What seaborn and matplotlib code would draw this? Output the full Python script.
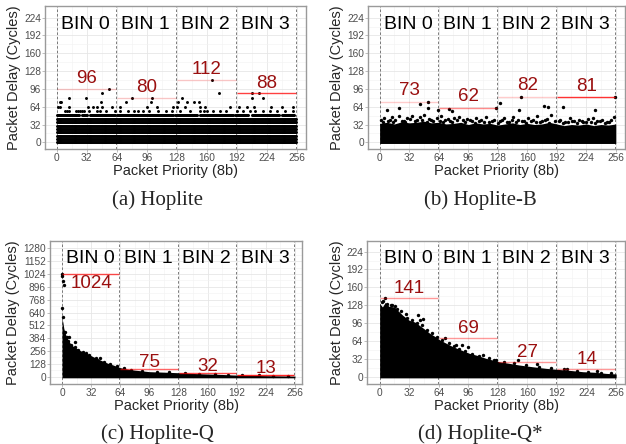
import numpy as np
import pandas as pd
import matplotlib
matplotlib.use("Agg")
import matplotlib.pyplot as plt
import seaborn as sns

# ---------------- values ----------------
bin_lines = [0, 63, 127, 191, 255]
bin_names = ["BIN 0", "BIN 1", "BIN 2", "BIN 3"]
bin_centers = [32, 96, 160, 224]
priority_ticks = [0, 32, 64, 96, 128, 160, 192, 224, 256]

# (a) Hoplite -- delays fall on discrete levels
a_full_levels = [0, 6, 12, 18, 24, 30, 36, 42]
a_row49_runs = [(0, 24), (27, 32), (36, 62), (64, 124), (126, 150),
                (153, 188), (190, 204), (208, 237), (240, 253)]
a_row57 = [9, 11, 13, 21, 23, 25, 27, 29, 34, 43, 46, 53, 62, 68, 76, 82, 87,
           92, 98, 108, 117, 123, 132, 142, 153, 157, 160, 167, 174, 181, 192,
           199, 206, 212, 220, 228, 235, 244, 252]
a_row64 = [1, 3, 13, 33, 39, 43, 48, 59, 67, 96, 107, 124, 128, 137, 153, 158,
           185, 194, 203, 211, 229, 240, 252]
a_row72 = [3, 5, 47, 74, 101, 129, 139, 146, 152]
a_row80 = [13, 31, 80, 102, 134, 208, 220]
a_row88 = [48, 173, 208, 216]
a_row96 = [56]
a_row112 = [166]
a_max = [96, 80, 112, 88]

# (b) Hoplite-B -- solid body, ragged top, a few outliers
b_body_x = list(range(0, 257, 8))
b_body = [34, 36, 33, 37, 35, 36, 38, 35, 36, 33, 34, 36, 32, 35, 33, 34, 31,
          33, 35, 32, 34, 32, 33, 36, 33, 30, 32, 31, 33, 30, 32, 31, 33]
b_edge_x = [2, 5, 9, 13, 17, 21, 26, 30, 35, 40, 44, 48, 53, 58, 62, 67, 71, 76,
            81, 86, 90, 95, 100, 105, 110, 115, 119, 124, 130, 135, 140, 145,
            150, 156, 161, 166, 171, 176, 181, 186, 190, 196, 201, 206, 211, 216,
            221, 226, 231, 236, 241, 246, 251, 254]
b_edge_y = [40, 44, 38, 46, 41, 48, 39, 43, 47, 40, 45, 49, 42, 38, 44, 47, 41,
            39, 43, 46, 40, 42, 38, 44, 40, 46, 37, 41, 39, 43, 36, 45, 41, 38,
            44, 40, 47, 39, 42, 50, 38, 41, 36, 43, 39, 40, 37, 42, 44, 38, 41,
            36, 40, 46]
b_edge2_x = [4, 11, 15, 24, 28, 33, 38, 46, 51, 56, 65, 69, 74, 79, 84, 93, 98,
             103, 108, 113, 122, 128, 133, 138, 143, 148, 154, 159, 164, 169,
             174, 179, 184, 194, 199, 204, 209, 214, 219, 224, 229, 234, 239,
             244, 249]
b_edge2_y = [37, 41, 36, 39, 37, 42, 38, 40, 36, 41, 39, 37, 42, 36, 40, 37, 41,
             35, 38, 36, 39, 35, 40, 37, 41, 36, 38, 35, 39, 36, 37, 41, 35, 38,
             34, 37, 39, 35, 38, 36, 37, 34, 38, 35, 37]
b_out_x = [8, 21, 44, 52, 52, 63, 75, 78, 126, 131, 151, 153, 178, 182, 199, 233, 255]
b_out_y = [58, 62, 68, 73, 61, 58, 60, 57, 62, 70, 58, 82, 66, 63, 64, 58, 81]
b_max = [73, 62, 82, 81]

# (c) Hoplite-Q -- fast decaying envelope
c_env_x = [0, 1, 2, 4, 6, 9, 12, 16, 20, 27, 34, 42, 50, 56, 64, 72, 80, 96,
           112, 126, 144, 159, 176, 188, 208, 225, 240, 256]
c_env = [580, 540, 480, 420, 380, 333, 305, 283, 260, 233, 200, 166, 135, 117,
         90, 75, 65, 50, 45, 40, 32, 27, 22, 17, 13, 10, 8, 6]
c_edge_x = [3, 5, 7, 10, 14, 18, 23, 30, 37, 46, 53, 60, 68, 76, 88, 104, 118,
            135, 150, 168, 182, 198, 216, 232, 248]
c_edge_y = [450, 400, 360, 320, 295, 270, 250, 215, 185, 150, 125, 105, 82, 70,
            58, 48, 42, 36, 30, 25, 20, 15, 12, 9, 7]
c_out_x = [0, 0, 1, 2, 0, 1, 8, 14, 26, 32, 38, 42]
c_out_y = [1024, 1000, 955, 915, 680, 600, 400, 343, 239, 150, 166, 190]
c_max = [1024, 75, 32, 13]

# (d) Hoplite-Q* -- slower decaying envelope
d_env_x = [0, 3, 6, 10, 16, 20, 25, 32, 38, 43, 48, 54, 60, 65, 72, 79, 88, 97,
           106, 115, 122, 129, 140, 151, 165, 180, 194, 208, 220, 233, 245, 256]
d_env = [131, 125, 133, 126, 125, 118, 110, 101, 98, 92, 86, 78, 72, 66, 60, 54,
         48, 42, 38, 33, 30, 27, 24, 21, 18, 15, 13, 11, 9, 8, 6, 5]
d_edge_x = [2, 8, 12, 19, 23, 28, 30, 35, 40, 46, 51, 57, 62, 68, 75, 81, 86, 92,
            100, 108, 118, 124, 135, 145, 158, 172, 186, 200, 214, 226, 240, 250]
d_edge_y = [133, 130, 128, 122, 117, 112, 106, 102, 97, 92, 84, 79, 72, 65, 60,
            55, 50, 46, 41, 37, 33, 30, 27, 24, 21, 18, 15, 13, 10, 9, 7, 6]
d_out_x = [6, 4, 13, 17, 42, 44, 47, 71, 83, 89, 96, 112, 126, 150, 170, 203, 235]
d_out_y = [141, 135, 128, 126, 110, 101, 104, 69, 57, 56, 54, 39, 30, 30, 22, 14, 11]
d_max = [141, 69, 27, 14]

captions = ["(a) Hoplite", "(b) Hoplite-B", "(c) Hoplite-Q", "(d) Hoplite-Q*"]

# ---------------- build point tables ----------------
a_pts = []
for lev in a_full_levels:
    a_pts += [(p, lev) for p in range(256)]
for s, e in a_row49_runs:
    a_pts += [(p, 49) for p in range(s, e + 1)]
for lev, row in [(57, a_row57), (64, a_row64), (72, a_row72), (80, a_row80),
                 (88, a_row88), (96, a_row96), (112, a_row112)]:
    a_pts += [(p, lev) for p in row]
df_a = pd.DataFrame(a_pts, columns=["priority", "delay"])
df_b = pd.DataFrame({"priority": b_edge_x + b_edge2_x + b_out_x,
                     "delay": b_edge_y + b_edge2_y + b_out_y})
df_c = pd.DataFrame({"priority": c_edge_x + c_out_x, "delay": c_edge_y + c_out_y})
df_d = pd.DataFrame({"priority": d_edge_x + d_out_x, "delay": d_edge_y + d_out_y})

sns.set_theme(style="white")
plt.rcParams["font.family"] = ["Liberation Sans", "DejaVu Sans"]

fig = plt.figure(figsize=(6.26, 4.44), dpi=100)


def add_ax(l, t, r, b):
    return fig.add_axes([l / 626, 1 - b / 444, (r - l) / 626, (b - t) / 444])


panels = [
    dict(box=(45, 6, 306, 149), xlim=(-12.5, 266), ylim=(-12, 245), ystep=32,
         top=224, df=df_a, mx=a_max, biny=211, off=18, s=4.5,
         alphas=[0.2, 0.2, 0.2, 0.75]),
    dict(box=(368, 6, 625, 149), xlim=(-12.6, 266), ylim=(-12, 245), ystep=32,
         top=224, df=df_b, mx=b_max, biny=211, off=20, s=6,
         alphas=[0.2, 0.45, 0.2, 0.8], fill=(b_body_x, b_body)),
    dict(box=(50, 241, 302, 384), xlim=(-13.2, 263.7), ylim=(-73, 1353), ystep=128,
         top=1280, df=df_c, mx=c_max, biny=1180, off=70, s=6,
         alphas=[0.7, 0.6, 0.7, 0.85], fill=(c_env_x, c_env)),
    dict(box=(367, 241, 625, 384), xlim=(-13.7, 265.6), ylim=(-13, 243), ystep=32,
         top=224, df=df_d, mx=d_max, biny=212, off=17, s=6,
         alphas=[0.4, 0.4, 0.4, 0.4], fill=(d_env_x, d_env)),
]
cap_pos = [(157, 200), (480, 200), (157, 434), (480, 434)]
ylabel_x = [14, 337, 13, 337]

for i, P in enumerate(panels):
    ax = add_ax(*P["box"])
    ax.set_xlim(*P["xlim"])
    ax.set_ylim(*P["ylim"])
    ax.set_xticks(priority_ticks)
    ax.set_xticks(np.arange(16, 256, 32), minor=True)
    yt = np.arange(0, P["top"] + 1, P["ystep"])
    ax.set_yticks(yt)
    ax.set_yticks(yt[:-1] + P["ystep"] / 2, minor=True)
    ax.grid(True, which="major", color="#E6E6E6", lw=0.6, zorder=0)
    ax.grid(True, which="minor", color="#F2F2F2", lw=0.4, zorder=0)
    ax.set_axisbelow(True)
    ax.tick_params(which="major", length=2, width=0.6, color="#B3B3B3",
                   labelsize=7.3, labelcolor="#4D4D4D", pad=1,
                   bottom=True, left=True)
    ax.tick_params(which="minor", length=0)
    for sp in ax.spines.values():
        sp.set_color("#9A9A9A")
        sp.set_linewidth(1.0)

    for v in bin_lines:
        ax.axvline(v, color="#666666", ls=(0, (3, 2.5)), lw=0.6, zorder=1)

    if "fill" in P:
        fx, fy = P["fill"]
        rng = P["ylim"][1] - P["ylim"][0]
        ax.fill_between(fx, -0.008 * rng, fy, color="black", lw=0, zorder=2)
    sns.scatterplot(data=P["df"], x="priority", y="delay", ax=ax, color="black",
                    s=P["s"], linewidth=0, legend=False, zorder=3)

    for k in range(4):
        ax.hlines(P["mx"][k], bin_lines[k] + (k > 0), bin_lines[k + 1],
                  color="red", alpha=P["alphas"][k], lw=1.0, zorder=4)
        ly = P["mx"][k] + P["off"]
        if i == 2 and k == 0:
            ly = P["mx"][k] - 90
        ax.text(bin_centers[k], ly, str(P["mx"][k]), ha="center", va="center",
                fontsize=13.5, color="#9A0F0F", zorder=5)
        ax.text(bin_centers[k] - 1, P["biny"], bin_names[k], ha="center",
                va="center", fontsize=14, color="black", zorder=5)

    ax.set_xlabel("")
    ax.set_ylabel("")
    l, t, r, b = P["box"]
    ax.text(0.5, -22 / (b - t), "Packet Priority (8b)",
            transform=ax.transAxes, ha="center", va="center", fontsize=10.5)
    ax.text((ylabel_x[i] - l) / (r - l), 0.5, "Packet Delay (Cycles)", rotation=90,
            transform=ax.transAxes, ha="center", va="center", fontsize=10.5)

    cx, cy = cap_pos[i]
    fig.text(cx / 626, 1 - cy / 444, captions[i], ha="center", va="center",
             fontsize=15, family=["Liberation Serif", "DejaVu Serif"])

fig.savefig("out.png", dpi=100)
